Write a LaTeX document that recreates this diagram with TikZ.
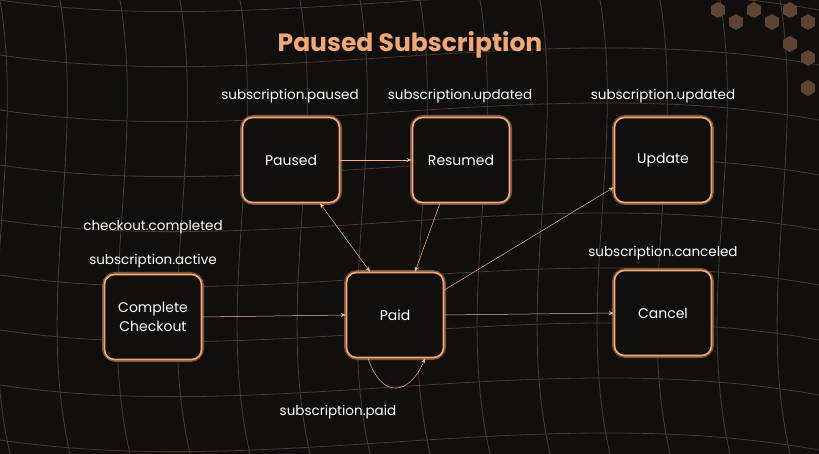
\documentclass[tikz,border=0pt]{standalone}
\usepackage{fontspec}
\setmainfont{Poppins}
\usetikzlibrary{arrows.meta,shapes.geometric}
\definecolor{bg}{HTML}{110F0E}
\definecolor{org}{HTML}{F3A774}
\definecolor{gridc}{HTML}{4A3A2F}
\begin{document}
\begin{tikzpicture}[x=1pt,y=-1pt,
 box/.style={draw=org,line width=1.6pt,rounded corners=10pt,minimum width=97pt,minimum height=85pt,align=center,text=white,font=\fontsize{14}{19}\selectfont,fill=bg},
 glow/.style={draw=org!45!bg,line width=5pt,rounded corners=11pt,minimum width=97pt,minimum height=85pt},
 lab/.style={text=white,font=\fontsize{13.5}{16}\selectfont},
 hex/.style={regular polygon,regular polygon sides=6,fill=org!35!bg,minimum size=16pt,inner sep=0pt,shape border rotate=30},
 conn/.style={draw=org!85!white,line width=0.5pt,-{Stealth[length=5pt,width=4pt]}}]
\fill[bg] (0,0) rectangle (819,454);
\useasboundingbox (0,0) rectangle (819,454);
\foreach \i in {-2,...,16}{
 \draw[gridc,line width=0.8pt] (\i*60,0) .. controls (\i*60+25,150) and (\i*60-25,300) .. (\i*60+10,454);
}
\foreach \j in {-1,...,9}{
 \draw[gridc,line width=0.8pt] (0,\j*55) .. controls (270,\j*55+40) and (540,\j*55-40) .. (819,\j*55+10);
}
\foreach \k/\p in {1/{(718,10)},2/{(736,22)},3/{(754,10)},4/{(772,22)},5/{(790,10)},6/{(808,22)},7/{(790,44)},8/{(808,58)},9/{(808,88)}}
 \node[hex] (hx\k) at \p {};
\node[text=org,font=\bfseries\fontsize{25}{30}\selectfont] (title) at (410,45) {Paused Subscription};
\foreach \n/\x/\y/\t in {paused/291/160/Paused,resumed/461/160/Resumed,update/663/160/Update,complete/153/317/{Complete\\Checkout},paid/395/315/Paid,cancel/663/313/Cancel}{
 \node[glow] at (\x,\y) {};
 \node[box] (\n) at (\x,\y) {\t};
}
\node[lab] (lpaused) at (290,96) {subscription.paused};
\node[lab] (lresumed) at (460,96) {subscription.updated};
\node[lab] (lupdate) at (663,96) {subscription.updated};
\node[lab] (lcc) at (153,227) {checkout.completed};
\node[lab] (lact) at (153,261) {subscription.active};
\node[lab] (lcan) at (663,253) {subscription.canceled};
\node[lab] (lpaid) at (338,412) {subscription.paid};
\draw[conn] (paused.east) -- (resumed.west);
\draw[conn,{Stealth[length=5pt,width=4pt]}-{Stealth[length=5pt,width=4pt]}] ([xshift=29pt]paused.south) -- ([xshift=-25pt]paid.north);
\draw[conn] ([xshift=-21pt]resumed.south) -- ([xshift=20pt]paid.north);
\draw[conn] ([yshift=25pt]paid.east) -- ([yshift=16pt]update.south west);
\draw[conn] (complete.east) -- (paid.west);
\draw[conn] (paid.east) -- (cancel.west);
\draw[conn] ([xshift=-27pt]paid.south) .. controls (382,400) and (410,395) .. ([xshift=30pt]paid.south);
\end{tikzpicture}
\end{document}
